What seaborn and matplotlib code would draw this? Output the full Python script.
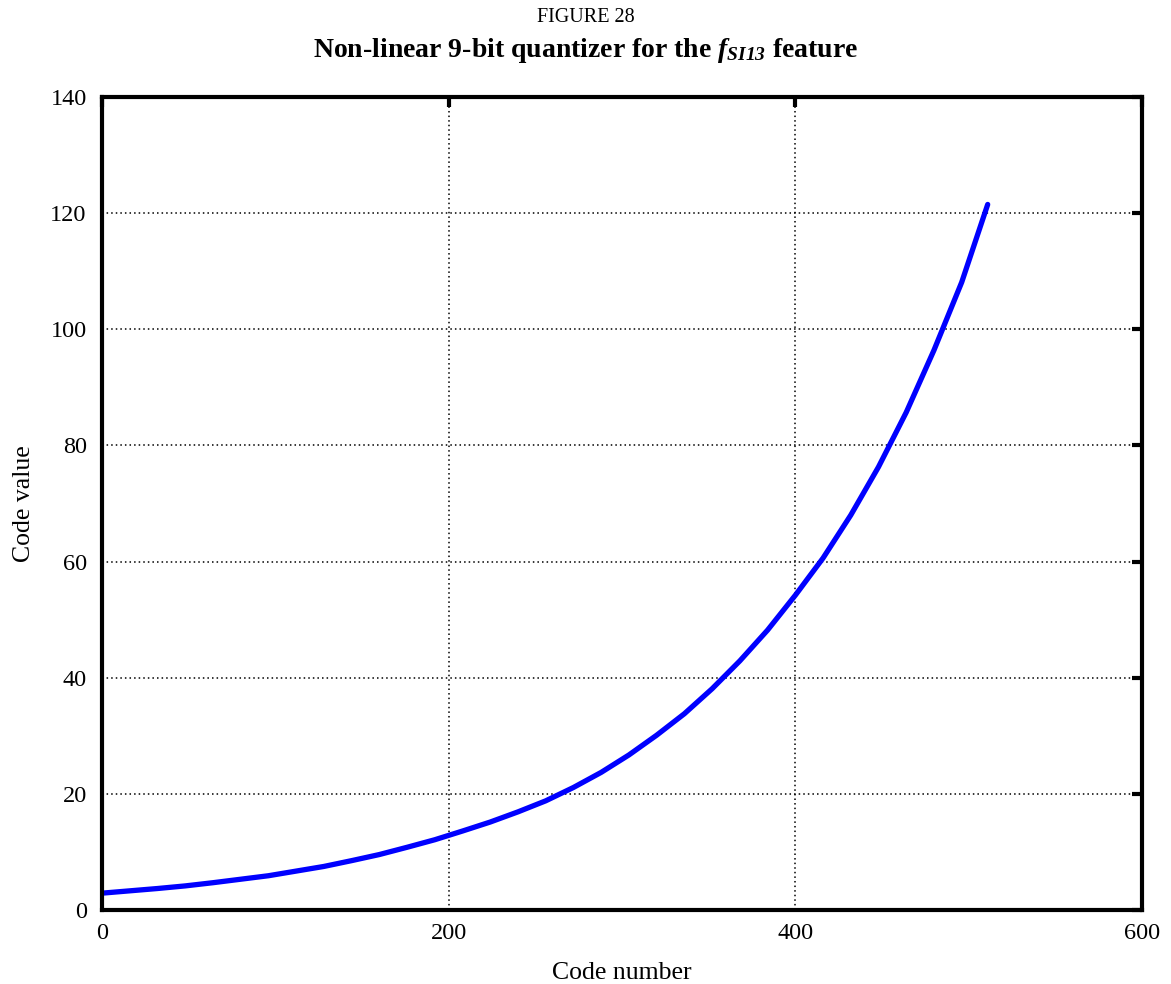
import numpy as np
import pandas as pd
import matplotlib
matplotlib.use("Agg")
import matplotlib.pyplot as plt
import seaborn as sns

# =========================================
# DATA
# =========================================

code_number = [0, 16, 32, 48, 64, 80, 96, 112, 128, 144, 160, 176, 192, 208,
               224, 240, 256, 272, 288, 304, 320, 336, 352, 368, 384, 400,
               416, 432, 448, 464, 480, 496, 511]
code_value = [2.9, 3.3, 3.7, 4.15, 4.7, 5.3, 5.9, 6.7, 7.5, 8.5, 9.55, 10.8,
              12.1, 13.6, 15.15, 16.9, 18.8, 21.1, 23.7, 26.7, 30.1, 33.8,
              38.1, 42.9, 48.2, 54.2, 60.6, 68.0, 76.3, 85.7, 96.4, 108.1, 121.5]

x_ticks = [0, 200, 400, 600]
y_ticks = [0, 20, 40, 60, 80, 100, 120, 140]

df = pd.DataFrame({"code": code_number, "value": code_value})

# =========================================
# STYLE
# =========================================

sns.set_theme(style="white")
plt.rcParams["font.family"] = ["Liberation Serif", "DejaVu Serif"]
# math text only used for the f_SI13 symbol -> all bold italic
plt.rcParams["mathtext.fontset"] = "custom"
plt.rcParams["mathtext.rm"] = "Liberation Serif:bold:italic"
plt.rcParams["mathtext.it"] = "Liberation Serif:bold:italic"
plt.rcParams["mathtext.bf"] = "Liberation Serif:bold:italic"

fig = plt.figure(figsize=(11.71, 9.84), dpi=100)
ax = fig.add_axes([0.0871, 0.0752, 0.8881, 0.8262])

sns.lineplot(data=df, x="code", y="value", ax=ax, color="#0000ff",
             linewidth=3.8)

ax.set_xlim(0, 600)
ax.set_ylim(0, 140)
ax.set_xticks(x_ticks)
ax.set_yticks(y_ticks)
ax.grid(True, color="black", linestyle=(0, (1, 2)), linewidth=1.1)

for s in ax.spines.values():
    s.set_color("black")
    s.set_linewidth(3.0)

ax.tick_params(direction="in", length=7, width=3.0, colors="black",
               top=True, right=True, labelsize=17.5)
ax.tick_params(axis="x", pad=9)
ax.tick_params(axis="y", pad=11)

ax.set_xlabel("Code number", fontsize=18.5, color="black", labelpad=13.5)
ax.set_ylabel("Code value", fontsize=18.5, color="black", labelpad=11)

fig.text(0.5, 1 - 22 / 984, "FIGURE 28", ha="center", va="baseline",
         fontsize=14.5, color="black")
fig.text(0.5, 1 - 57 / 984,
         r"Non-linear 9-bit quantizer for the $f_{SI13}$ feature",
         ha="center", va="baseline", fontsize=20, fontweight="bold", color="black")

plt.savefig("out.png", dpi=100)
plt.close()
